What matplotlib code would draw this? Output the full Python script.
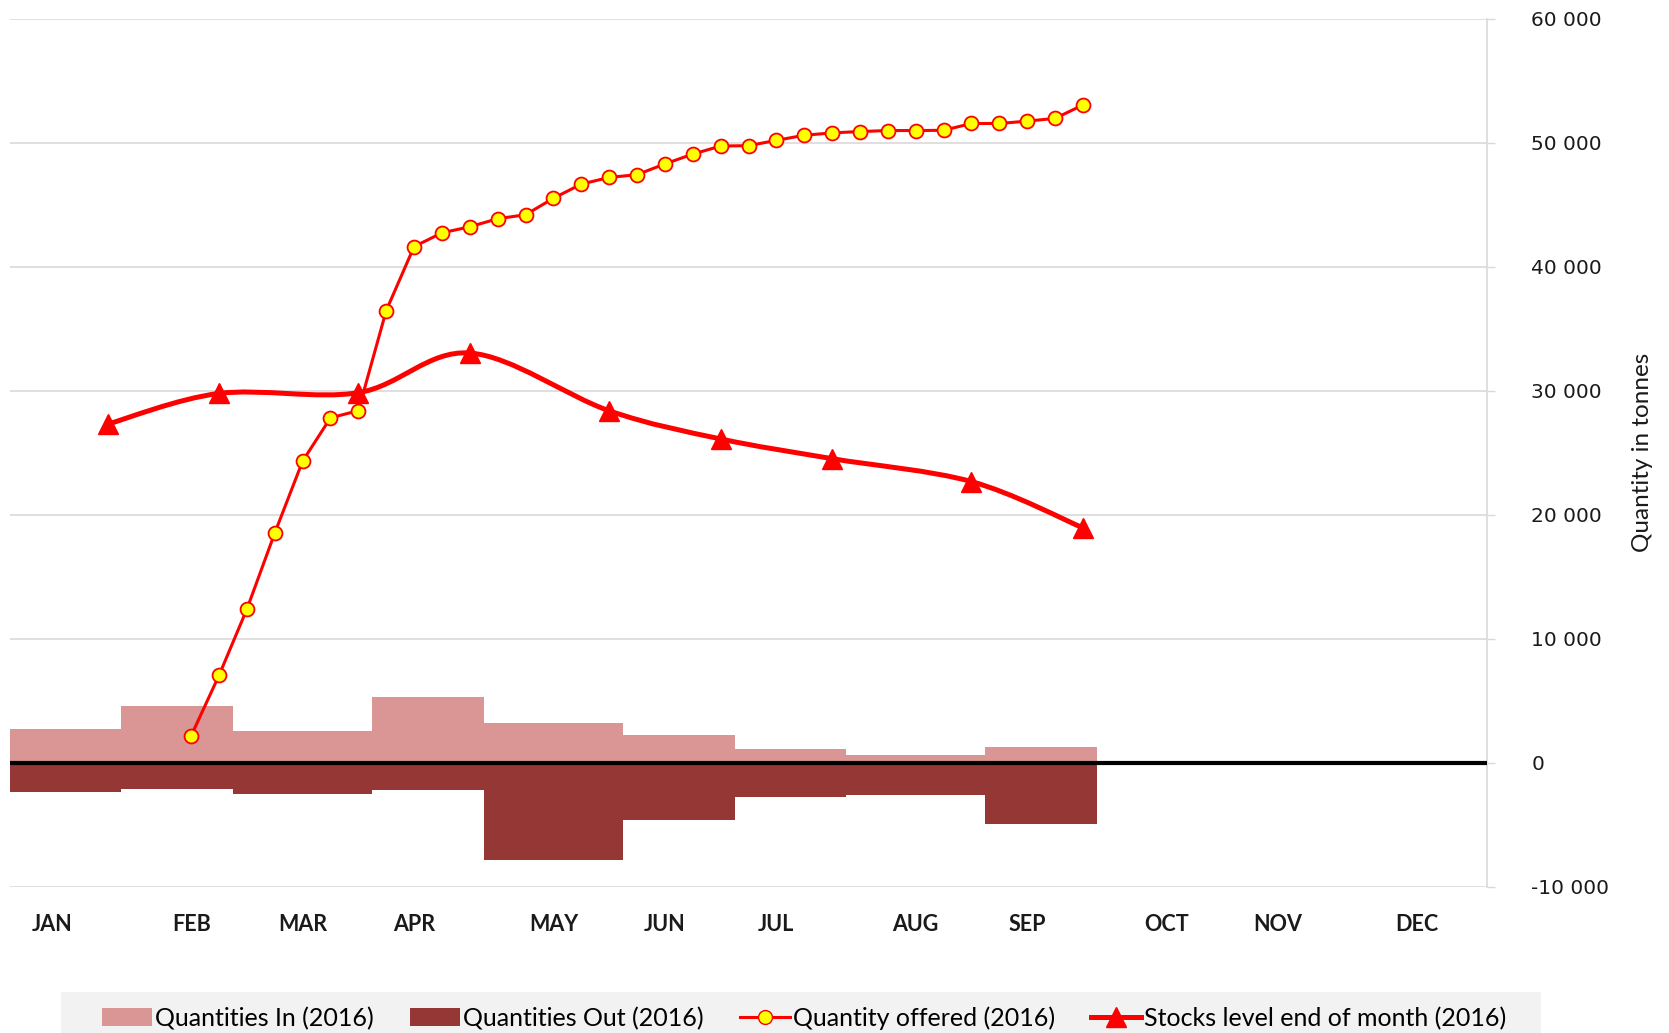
import numpy as np
import matplotlib
matplotlib.use("Agg")
import matplotlib.pyplot as plt
from matplotlib.path import Path
from matplotlib.patches import PathPatch, Rectangle, Patch
from matplotlib.lines import Line2D
from matplotlib.ticker import FuncFormatter

# --- data (weekly category axis, 53 weeks) ---
n_weeks = 53
month_labels = ["JAN", "FEB", "MAR", "APR", "MAY", "JUN", "JUL", "AUG", "SEP", "OCT", "NOV", "DEC"]
month_label_week = [1, 6, 10, 14, 19, 23, 27, 32, 36, 41, 45, 50]

# monthly bars: week boundaries JAN..SEP
bar_week_bounds = [0, 4, 8, 13, 17, 22, 26, 30, 35, 39]
qty_in = [2700, 4590, 2590, 5300, 3190, 2270, 1080, 650, 1300]
qty_out = [-2380, -2110, -2490, -2220, -7810, -4590, -2760, -2590, -4970]

offered_weeks = list(range(6, 39))
offered = [2170, 7040, 12380, 18520, 24320, 27810, 28390, 36460, 41620, 42730,
           43220, 43870, 44190, 45520, 46660, 47200, 47420, 48290, 49080, 49730,
           49760, 50190, 50600, 50790, 50900, 50980, 50980, 51000, 51550, 51550,
           51740, 51960, 53040]

stock_weeks = [3, 7, 12, 16, 21, 25, 29, 34, 38]
stocks = [27300, 29780, 29840, 33040, 28380, 26110, 24520, 22670, 18940]

C_IN = "#d99694"
C_OUT = "#953735"
RED = "#ff0000"
GRID = "#d9d9d9"


def smooth_path(xs, ys):
    # Catmull-Rom -> cubic bezier, like a spreadsheet "smoothed line"
    pts = np.column_stack([xs, ys]).astype(float)
    ext = np.vstack([pts[0], pts, pts[-1]])
    verts = [tuple(pts[0])]
    codes = [Path.MOVETO]
    for i in range(1, len(ext) - 2):
        p0, p1, p2, p3 = ext[i - 1], ext[i], ext[i + 1], ext[i + 2]
        c1 = p1 + (p2 - p0) / 6.0
        c2 = p2 - (p3 - p1) / 6.0
        verts += [tuple(c1), tuple(c2), tuple(p2)]
        codes += [Path.CURVE4] * 3
    return Path(verts, codes)


fig = plt.figure(figsize=(16.69, 10.33), dpi=100)
ax = fig.add_axes([10 / 1669, 1 - 886.7 / 1033, 1477 / 1669, 868 / 1033])

# bars
lefts = [b - 0.5 for b in bar_week_bounds[:-1]]
widths = np.diff(bar_week_bounds)
ax.bar(lefts, qty_in, width=widths, align="edge", color=C_IN, zorder=2, linewidth=0)
ax.bar(lefts, qty_out, width=widths, align="edge", color=C_OUT, zorder=2, linewidth=0)
ax.axhline(0, color="black", lw=3.0, zorder=3)

# quantity offered
ax.plot(offered_weeks, offered, color=RED, lw=2.2, marker="o", ms=10,
        mfc="#ffff00", mec=RED, mew=1.3, zorder=5)

# stocks (smoothed)
ax.add_patch(PathPatch(smooth_path(stock_weeks, stocks), fill=False,
                       edgecolor=RED, lw=3.6, zorder=4, capstyle="round"))
ax.plot(stock_weeks, stocks, ls="none", marker="^", ms=14, color=RED, zorder=4)

ax.set_xlim(-0.5, n_weeks - 0.5)
ax.set_ylim(-10000, 60000)
ax.set_yticks(np.arange(-10000, 60001, 10000))
ax.yaxis.set_major_formatter(FuncFormatter(lambda v, p: f"{int(v):,}".replace(",", " ")))
ax.yaxis.tick_right()
ax.yaxis.set_label_position("right")
ax.tick_params(axis="y", length=6, width=1, color=GRID, pad=26,
               labelsize=14.5, labelcolor="#1a1a1a")
for lab in ax.get_yticklabels():
    lab.set_fontfamily("DejaVu Sans")
ax.grid(axis="y", color=GRID, lw=1.2, zorder=0)
ax.set_axisbelow(True)

ax.set_xticks(month_label_week)
ax.set_xticklabels(month_labels, fontfamily="Lato", fontweight="bold", fontsize=15.5, color="#1a1a1a")
ax.tick_params(axis="x", length=0, pad=20)

for s in ["top", "left", "bottom"]:
    ax.spines[s].set_visible(False)
ax.spines["right"].set_color(GRID)
ax.spines["right"].set_linewidth(1.2)

ax.set_ylabel("Quantity in tonnes", fontfamily="Lato", fontsize=17.5, color="#1a1a1a", labelpad=16)

# legend strip
fig.patches.append(Rectangle((61 / 1669, 0), 1480 / 1669, 41 / 1033,
                             transform=fig.transFigure, facecolor="#f2f2f2",
                             edgecolor="none", zorder=0))
handles = [
    Patch(facecolor=C_IN, edgecolor="none"),
    Patch(facecolor=C_OUT, edgecolor="none"),
    Line2D([], [], color=RED, lw=2.2, marker="o", ms=10, mfc="#ffff00", mec=RED),
    Line2D([], [], color=RED, lw=3.6, marker="^", ms=14),
]
labels = ["Quantities In (2016)", "Quantities Out (2016)",
          "Quantity offered (2016)", "Stocks level end of month (2016)"]
fig.legend(handles, labels, loc="center", bbox_to_anchor=(0.482, 0.0145), ncol=4,
           frameon=False, prop={"family": "Lato", "size": 18}, handlelength=2.0,
           handletextpad=0.12, columnspacing=1.45, handleheight=0.75)

fig.savefig("out.png", dpi=100)
